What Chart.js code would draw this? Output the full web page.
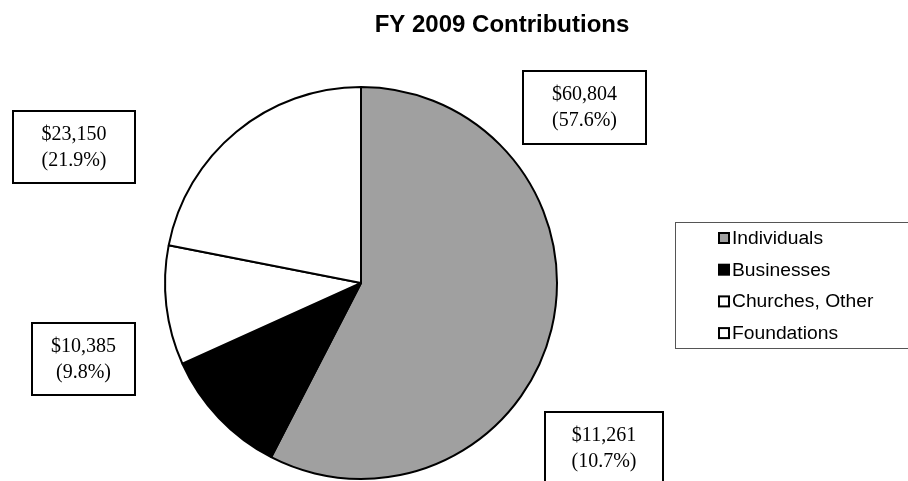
<!DOCTYPE html>
<html>
<head>
<meta charset="utf-8">
<script src="https://cdn.jsdelivr.net/npm/chart.js@4/dist/chart.umd.min.js"></script>
<style>
  html, body { margin: 0; padding: 0; background: #fff; }
  #wrap { width: 908px; height: 481px; position: relative; }
</style>
</head>
<body>
<div id="wrap"><canvas id="pie" width="908" height="481"></canvas></div>
<script>
// FY 2009 contributions by source
const categories = ["Individuals", "Businesses", "Churches, Other", "Foundations"];
const amounts = [60804, 11261, 10385, 23150];
const sliceColors = ["#a0a0a0", "#000000", "#ffffff", "#ffffff"];
const chartTitle = "FY 2009 Contributions";

// boxed value labels, one per slice (x, y, w, h)
const labelBoxes = [
  [523, 71, 123, 73],
  [545, 412, 118, 80],
  [32, 323, 103, 72],
  [13, 111, 122, 72],
];

const total = amounts.reduce((a, b) => a + b, 0);

const annotate = {
  id: "annotate",
  afterDraw(chart) {
    const ctx = chart.ctx;
    ctx.save();

    // title
    ctx.fillStyle = "#000";
    ctx.font = "bold 24px 'Liberation Sans', Arial, sans-serif";
    ctx.textAlign = "center";
    ctx.textBaseline = "middle";
    ctx.fillText(chartTitle, 502, 25);

    // value boxes
    ctx.font = "20px 'Liberation Serif', 'Times New Roman', serif";
    amounts.forEach((v, i) => {
      const [x, y, w, h] = labelBoxes[i];
      ctx.lineWidth = 2;
      ctx.strokeStyle = "#000";
      ctx.strokeRect(x, y, w, h);
      const cx = x + w / 2;
      const top = y + 24;
      ctx.fillText("$" + v.toLocaleString("en-US"), cx, top);
      ctx.fillText("(" + (v / total * 100).toFixed(1) + "%)", cx, top + 26);
    });

    // legend
    ctx.lineWidth = 1;
    ctx.strokeStyle = "#555";
    ctx.strokeRect(675.5, 222.5, 240, 126);
    ctx.font = "18px 'Liberation Sans', Arial, sans-serif";
    ctx.textAlign = "left";
    categories.forEach((name, i) => {
      const yc = 238 + i * 31.7;
      ctx.fillStyle = sliceColors[i];
      ctx.fillRect(719, yc - 5, 10, 10);
      ctx.lineWidth = 2;
      ctx.strokeStyle = "#000";
      ctx.strokeRect(719, yc - 5, 10, 10);
      ctx.fillStyle = "#000";
      ctx.save();
      ctx.translate(732, yc + 1);
      ctx.scale(1.07, 1);
      ctx.fillText(name, 0, 0);
      ctx.restore();
    });

    ctx.restore();
  }
};

new Chart(document.getElementById("pie"), {
  type: "pie",
  data: {
    labels: categories,
    datasets: [{
      data: amounts,
      backgroundColor: sliceColors,
      borderColor: "#000",
      borderWidth: 2,
    }],
  },
  options: {
    responsive: false,
    animation: false,
    layout: { padding: { left: 164, top: 86, right: 350, bottom: 1 } },
    plugins: {
      legend: { display: false },
      title: { display: false },
      tooltip: { enabled: false },
    },
  },
  plugins: [annotate],
});
</script>
</body>
</html>
